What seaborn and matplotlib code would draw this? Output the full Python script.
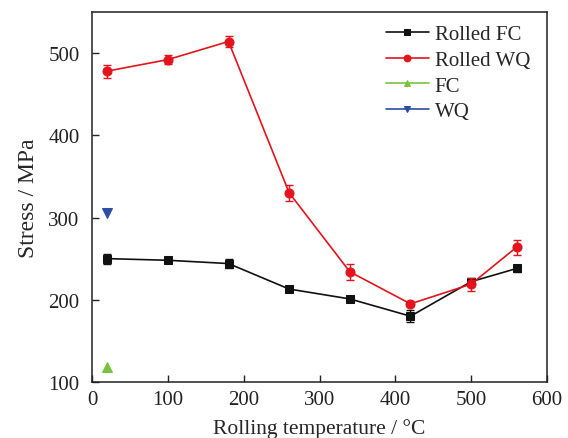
import numpy as np
import pandas as pd
import seaborn as sns
import matplotlib.pyplot as plt

# --- data ---
temps = [20, 100, 180, 260, 340, 420, 500, 560]
rolled_fc = [250, 248, 244, 213, 201, 180, 222, 238]
rolled_fc_err = [6, 3, 6, 4, 3, 7, 5, 4]
rolled_wq = [478, 492, 514, 330, 234, 195, 219, 264]
rolled_wq_err = [8, 5, 7, 10, 10, 3, 8, 9]
fc_temp = [20]
fc_val = [118]
wq_temp = [20]
wq_val = [305]

colors = {"Rolled FC": "#111111", "Rolled WQ": "#e3141c", "FC": "#7cc242", "WQ": "#2b4ea3"}

sns.set_style("ticks")
plt.rcParams['font.family'] = ['Liberation Serif', 'DejaVu Serif']

fig = plt.figure(figsize=(5.68, 4.39), dpi=100)
ax = fig.add_axes([0.162, 0.1276, 0.801, 0.843])

sns.lineplot(x=temps, y=rolled_fc, ax=ax, color=colors["Rolled FC"], marker="s",
             markersize=5.5, markeredgecolor=colors["Rolled FC"], linewidth=1.2, label="Rolled FC")
ax.errorbar(temps, rolled_fc, yerr=rolled_fc_err, fmt="none", ecolor=colors["Rolled FC"],
            elinewidth=1, capsize=3)
sns.lineplot(x=temps, y=rolled_wq, ax=ax, color=colors["Rolled WQ"], marker="o",
             markersize=6.5, markeredgecolor=colors["Rolled WQ"], linewidth=1.2, label="Rolled WQ")
ax.errorbar(temps, rolled_wq, yerr=rolled_wq_err, fmt="none", ecolor=colors["Rolled WQ"],
            elinewidth=1, capsize=3)
sns.lineplot(x=fc_temp, y=fc_val, ax=ax, color=colors["FC"], marker="^",
             markersize=6.5, markeredgecolor=colors["FC"], linewidth=1.2, label="FC")
sns.lineplot(x=wq_temp, y=wq_val, ax=ax, color=colors["WQ"], marker="v",
             markersize=6.5, markeredgecolor=colors["WQ"], linewidth=1.2, label="WQ")

ax.set_xlim(0, 600)
ax.set_ylim(100, 550)
ax.set_xticks(range(0, 601, 100))
ax.set_yticks(range(100, 501, 100))
ax.tick_params(direction="in", length=5, width=1, labelsize=15, colors="#222222")
ax.tick_params(axis="y", pad=9)
ax.tick_params(axis="x", pad=6)
for s in ax.spines.values():
    s.set_linewidth(1.1)
    s.set_color("#222222")
ax.set_xlabel("Rolling temperature / °C", fontsize=15.5, labelpad=6)
ax.set_ylabel("Stress / MPa", fontsize=17, labelpad=7)

ax.legend(loc="upper right", frameon=False, fontsize=15, handlelength=2.1,
          handletextpad=0.25, labelspacing=0.3, borderaxespad=0.2, markerscale=0.75,
          bbox_to_anchor=(0.99, 1.0))

fig.savefig("out.png", dpi=100)
